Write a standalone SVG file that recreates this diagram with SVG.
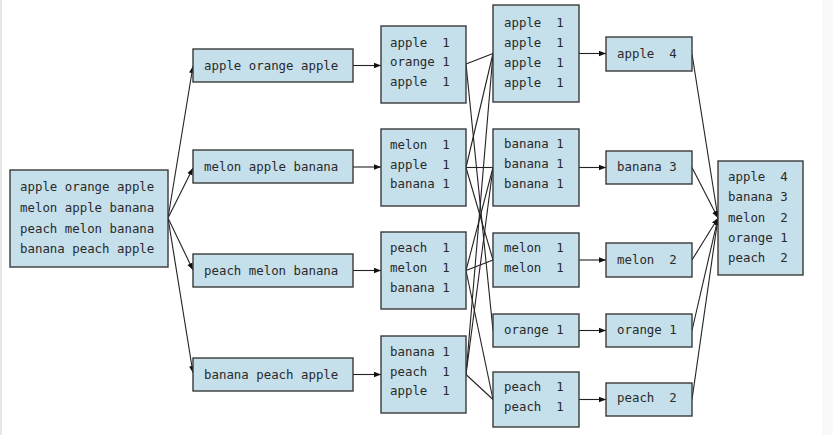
<svg xmlns="http://www.w3.org/2000/svg" width="833" height="435" viewBox="0 0 833 435">
<defs>
<style>
.box{fill:#c5dfeb;stroke:#3a3a3a;stroke-width:1.4}
text{font-family:"DejaVu Sans Mono","Liberation Mono",monospace;font-size:12.4px;fill:#2a2a2a;white-space:pre}
.c line{stroke:#222;stroke-width:1.1}
.a{marker-end:url(#ah)}
</style>
<marker id="ah" viewBox="0 0 10 10" refX="10" refY="5" markerWidth="7" markerHeight="7" markerUnits="userSpaceOnUse" orient="auto">
<path d="M0,1 L10,5 L0,9 Z" fill="#111"/>
</marker>
</defs>
<rect width="833" height="435" fill="#ffffff"/>
<rect x="0" y="0" width="2" height="435" fill="#e6e6e6"/>
<rect x="822" y="0" width="11" height="435" fill="#f9f9f9"/>

<g class="c" id="connectors">
<line class="a" x1="168" y1="218" x2="193" y2="66"/>
<line class="a" x1="168" y1="218" x2="193" y2="168"/>
<line class="a" x1="168" y1="218" x2="193" y2="270"/>
<line class="a" x1="168" y1="218" x2="193" y2="373"/>
<line class="a" x1="353" y1="65.5" x2="381" y2="65.5"/>
<line class="a" x1="353" y1="167" x2="381" y2="167"/>
<line class="a" x1="353" y1="270.5" x2="381" y2="270.5"/>
<line class="a" x1="353" y1="374.5" x2="381" y2="374.5"/>
<line x1="466" y1="64" x2="493" y2="53.5"/>
<line x1="466" y1="64" x2="493" y2="330.5"/>
<line x1="466" y1="167.5" x2="493" y2="53.5"/>
<line x1="466" y1="167.5" x2="493" y2="167.5"/>
<line x1="466" y1="167.5" x2="493" y2="260"/>
<line x1="466" y1="270.5" x2="493" y2="260"/>
<line x1="466" y1="270.5" x2="493" y2="167.5"/>
<line x1="466" y1="270.5" x2="493" y2="399.5"/>
<line x1="466" y1="374.5" x2="493" y2="53.5"/>
<line x1="466" y1="374.5" x2="493" y2="167.5"/>
<line x1="466" y1="374.5" x2="493" y2="399.5"/>
<line class="a" x1="579" y1="53.5" x2="606" y2="53.5"/>
<line class="a" x1="579" y1="167.5" x2="606" y2="167.5"/>
<line class="a" x1="579" y1="260" x2="606" y2="260"/>
<line class="a" x1="579" y1="330.5" x2="606" y2="330.5"/>
<line class="a" x1="579" y1="399.5" x2="606" y2="399.5"/>
<line class="a" x1="692" y1="54" x2="718" y2="218"/>
<line class="a" x1="692" y1="167.5" x2="718" y2="218"/>
<line class="a" x1="692" y1="260" x2="718" y2="218"/>
<line class="a" x1="692" y1="330.5" x2="718" y2="218"/>
<line class="a" x1="692" y1="399.5" x2="718" y2="218"/>
</g>

<g id="input">
<rect class="box" x="10" y="170" width="158" height="97"/>
<text x="20" y="191">apple orange apple</text>
<text x="20" y="212">melon apple banana</text>
<text x="20" y="233">peach melon banana</text>
<text x="20" y="253">banana peach apple</text>
</g>

<g id="split1"><rect class="box" x="193" y="49" width="160" height="33"/><text x="204" y="70">apple orange apple</text></g>
<g id="split2"><rect class="box" x="193" y="150" width="160" height="33"/><text x="204" y="171">melon apple banana</text></g>
<g id="split3"><rect class="box" x="193" y="254" width="160" height="33"/><text x="204" y="275">peach melon banana</text></g>
<g id="split4"><rect class="box" x="193" y="358" width="160" height="33"/><text x="204" y="379">banana peach apple</text></g>

<g id="map1"><rect class="box" x="381" y="26" width="85" height="77"/>
<text x="390" y="47">apple  1</text><text x="390" y="66">orange 1</text><text x="390" y="86">apple  1</text></g>
<g id="map2"><rect class="box" x="381" y="129" width="85" height="77"/>
<text x="390" y="149">melon  1</text><text x="390" y="169">apple  1</text><text x="390" y="188">banana 1</text></g>
<g id="map3"><rect class="box" x="381" y="232" width="85" height="77"/>
<text x="390" y="252">peach  1</text><text x="390" y="272">melon  1</text><text x="390" y="292">banana 1</text></g>
<g id="map4"><rect class="box" x="381" y="336" width="85" height="77"/>
<text x="390" y="356">banana 1</text><text x="390" y="376">peach  1</text><text x="390" y="395">apple  1</text></g>

<g id="shuffle-apple"><rect class="box" x="493" y="5" width="86" height="97"/>
<text x="504" y="27">apple  1</text><text x="504" y="47">apple  1</text><text x="504" y="67">apple  1</text><text x="504" y="87">apple  1</text></g>
<g id="shuffle-banana"><rect class="box" x="493" y="129" width="86" height="77"/>
<text x="504" y="148">banana 1</text><text x="504" y="168">banana 1</text><text x="504" y="188">banana 1</text></g>
<g id="shuffle-melon"><rect class="box" x="493" y="233" width="86" height="54"/>
<text x="504" y="252">melon  1</text><text x="504" y="272">melon  1</text></g>
<g id="shuffle-orange"><rect class="box" x="493" y="314" width="86" height="33"/>
<text x="504" y="334">orange 1</text></g>
<g id="shuffle-peach"><rect class="box" x="493" y="372" width="86" height="55"/>
<text x="504" y="391">peach  1</text><text x="504" y="411">peach  1</text></g>

<g id="reduce-apple"><rect class="box" x="606" y="37" width="86" height="34"/><text x="617" y="58">apple  4</text></g>
<g id="reduce-banana"><rect class="box" x="606" y="151" width="86" height="33"/><text x="617" y="171">banana 3</text></g>
<g id="reduce-melon"><rect class="box" x="606" y="243" width="86" height="34"/><text x="617" y="264">melon  2</text></g>
<g id="reduce-orange"><rect class="box" x="606" y="314" width="86" height="33"/><text x="617" y="334">orange 1</text></g>
<g id="reduce-peach"><rect class="box" x="606" y="383" width="86" height="33"/><text x="617" y="402">peach  2</text></g>

<g id="output"><rect class="box" x="718" y="161" width="85" height="114"/>
<text x="728" y="181">apple  4</text><text x="728" y="201">banana 3</text><text x="728" y="222">melon  2</text><text x="728" y="242">orange 1</text><text x="728" y="262">peach  2</text></g>
</svg>
